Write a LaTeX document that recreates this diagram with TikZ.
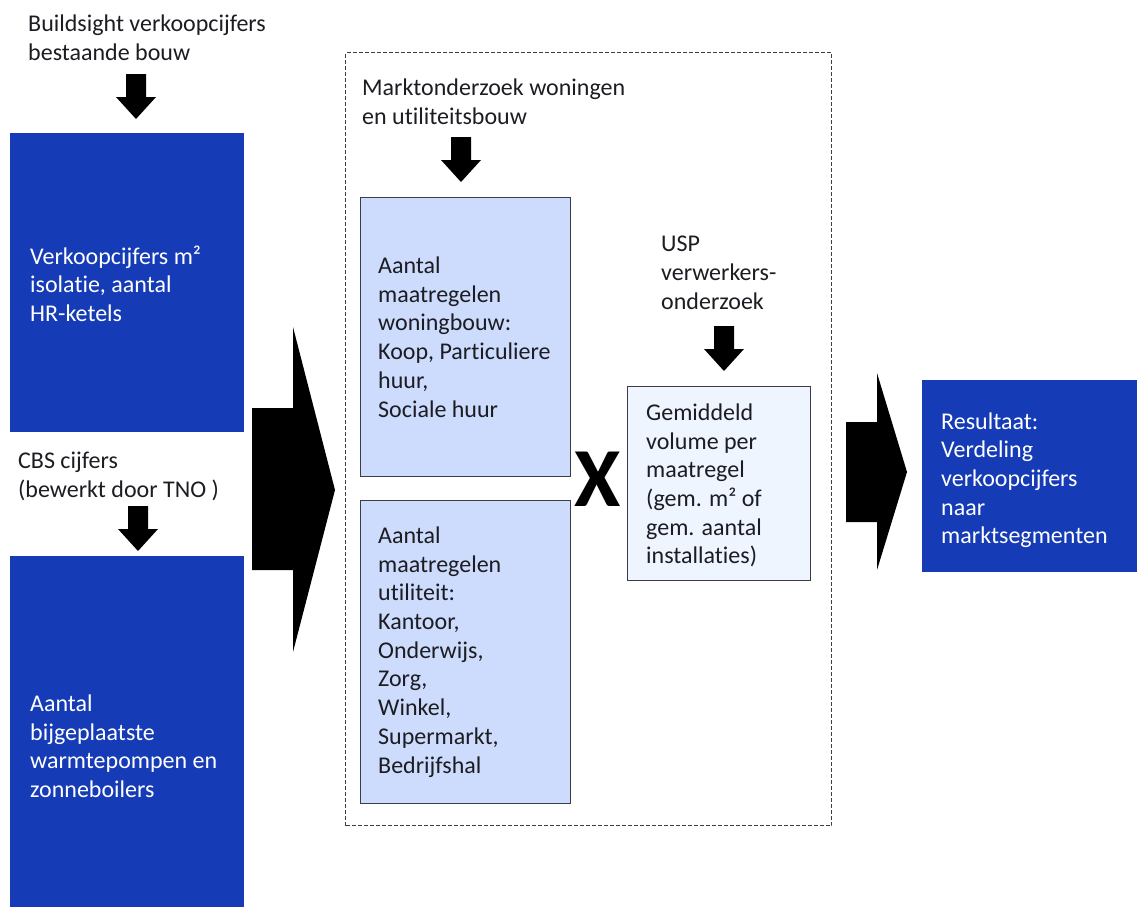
\documentclass[tikz,border=0pt]{standalone}
\usepackage{fontspec}
\setmainfont{Carlito}[Ligatures={NoCommon}]
\definecolor{ingblue}{RGB}{21,59,182}
\definecolor{lightbox}{RGB}{205,220,252}
\definecolor{palebox}{RGB}{239,245,255}
\definecolor{ink}{RGB}{28,28,34}
\definecolor{edge}{RGB}{60,60,70}
\tikzset{
  txt/.style={font=\fontsize{24}{28.7}\selectfont, text=ink, align=left, inner sep=0pt},
  wtxt/.style={txt, text=white},
  bluebox/.style={fill=ingblue, draw=none, anchor=north west, inner sep=0pt},
  lbox/.style={fill=lightbox, draw=edge, line width=1pt, anchor=north west, inner sep=0pt},
  pbox/.style={fill=palebox, draw=edge, line width=1pt, anchor=north west, inner sep=0pt},
  downarrow/.pic={\fill[black] (-10,0) -- (10,0) -- (10,23) -- (20,23) -- (0,45) -- (-20,23) -- (-10,23) -- cycle;}
}
\begin{document}
\begin{tikzpicture}[x=1pt,y=-1pt]
\useasboundingbox (0,0) rectangle (1138,906);
% left column
\node[txt, anchor=north west] (src1) at (28,15) {Buildsight verkoopcijfers\\bestaande bouw};
\pic at (136,74) {downarrow};
\node[bluebox, minimum width=234pt, minimum height=299pt] (b1) at (10,133) {};
\node[wtxt, anchor=west] (b1t) at ([xshift=20pt,yshift=-1pt]b1.west) {Verkoopcijfers m²\\isolatie, aantal\\HR-ketels};
\node[txt, anchor=north west] (src2) at (18,452) {CBS cijfers\\(bewerkt door TNO )};
\pic at (138,506) {downarrow};
\node[bluebox, minimum width=234pt, minimum height=352pt] (b2) at (10,556) {};
\node[wtxt, anchor=west] (b2t) at ([xshift=20pt,yshift=-14pt]b2.west) {Aantal\\bijgeplaatste\\warmtepompen en\\zonneboilers};
% big arrow 1
\fill[black] (252,408) -- (293,408) -- (293,327) -- (335,490) -- (293,652) -- (293,570) -- (252,570) -- cycle;
% dashed frame
\node[draw=edge, line width=1pt, dash pattern=on 4pt off 2pt, anchor=north west, minimum width=486pt, minimum height=773pt, inner sep=0pt] (frame) at (345,52) {};
\node[txt, anchor=north west] (src3) at (362,79) {Marktonderzoek woningen\\en utiliteitsbouw};
\pic at (461,137) {downarrow};
\node[lbox, minimum width=210pt, minimum height=279pt] (l1) at (360,197) {};
\node[txt, anchor=west] (l1t) at ([xshift=18pt]l1.west) {Aantal\\maatregelen\\woningbouw:\\Koop, Particuliere\\huur,\\Sociale huur};
\node[lbox, minimum width=210pt, minimum height=303pt] (l2) at (360,500) {};
\node[txt, anchor=west] (l2t) at ([xshift=18pt]l2.west) {Aantal\\maatregelen\\utiliteit:\\Kantoor,\\Onderwijs,\\Zorg,\\Winkel,\\Supermarkt,\\Bedrijfshal};
\node[text=black, inner sep=0pt, font=\fontsize{84}{84}\selectfont\bfseries] (times) at (598,479) {X};
\node[txt, anchor=north west] (src4) at (661,236) {USP\\verwerkers-\\onderzoek};
\pic at (724,326) {downarrow};
\node[pbox, minimum width=183pt, minimum height=194pt] (g) at (627,386) {};
\node[txt, anchor=west] (gt) at ([xshift=19pt,yshift=-2pt]g.west) {Gemiddeld\\volume per\\maatregel\\(gem. m² of\\gem. aantal\\installaties)};
% big arrow 2
\fill[black] (846,422) -- (877,422) -- (877,373) -- (907,472) -- (877,570) -- (877,522) -- (846,522) -- cycle;
\node[bluebox, minimum width=215pt, minimum height=192pt] (res) at (922,380) {};
\node[wtxt, anchor=west] (rest) at ([xshift=19pt,yshift=-4pt]res.west) {Resultaat:\\Verdeling\\verkoopcijfers\\naar\\marktsegmenten};
\end{tikzpicture}
\end{document}
